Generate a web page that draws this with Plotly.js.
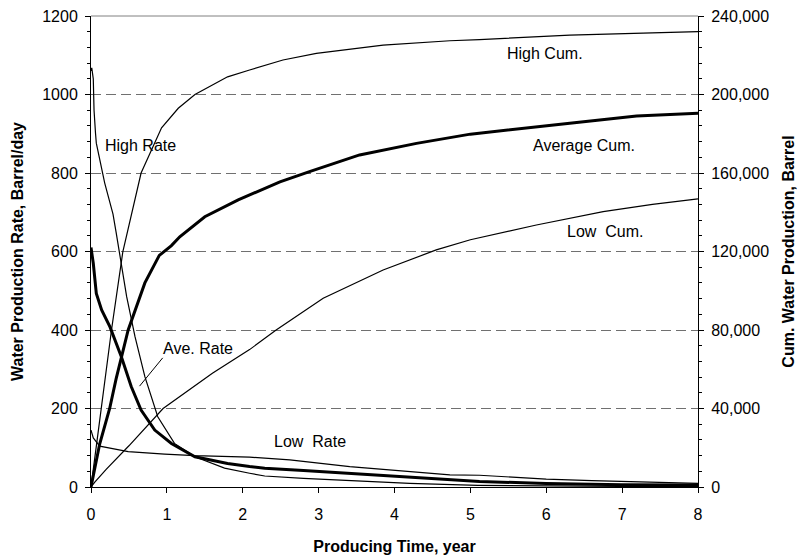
<!DOCTYPE html>
<html>
<head>
<meta charset="utf-8">
<script src="https://cdn.plot.ly/plotly-3.0.1.min.js"></script>
<style>html,body{margin:0;padding:0;background:#fff;}#chart{width:803px;height:560px;}</style>
</head>
<body>
<div id="chart"></div>
<script>
// ---- data (years, barrel/day) ----
var highRateX = [0, 0.01, 0.03, 0.04, 0.06, 0.07, 0.18, 0.29, 0.33, 0.38, 0.47, 0.58, 0.71, 0.88, 1.10, 1.37, 1.76, 2.09, 2.29, 2.8, 3.4, 4.2, 5.1, 6.0, 7.0, 8.0];
var highRateY = [1060, 1068, 1040, 960, 900, 876, 775, 695, 650, 595, 485, 383, 281, 179, 111, 77, 48, 35, 28, 22, 16, 9, 4, 2, 1.5, 1];

var aveRateX = [0, 0.005, 0.03, 0.07, 0.14, 0.25, 0.4, 0.53, 0.66, 0.84, 1.06, 1.37, 1.8, 2.09, 2.29, 2.8, 3.4, 4.2, 5.12, 6.0, 7.0, 8.0];
var aveRateY = [610, 604, 570, 493, 451, 408, 332, 256, 196, 145, 111, 77, 60, 52, 48, 42, 35, 24, 14, 9, 6, 5];

var lowRateX = [0, 0.03, 0.115, 0.49, 0.97, 1.37, 2.09, 2.29, 2.62, 3.41, 3.8, 4.2, 4.73, 5.12, 5.5, 6.0, 6.6, 7.4, 8.0];
var lowRateY = [145, 125, 104, 90, 84, 80, 76, 73, 69, 52, 46, 39, 31, 30, 26, 20, 16, 11, 9];

// ---- data (years, cumulative barrel) ----
var highCumX = [0, 0.05, 0.14, 0.27, 0.42, 0.58, 0.66, 0.93, 1.15, 1.37, 1.8, 2.09, 2.53, 2.97, 3.85, 4.73, 5.12, 6.31, 7.54, 8.0];
var highCumY = [0, 15000, 40000, 80000, 120000, 146000, 160000, 183000, 193000, 200000, 209000, 212500, 217600, 221000, 225200, 227400, 228000, 230300, 231500, 232000];

var aveCumX = [0, 0.05, 0.115, 0.246, 0.33, 0.49, 0.71, 0.9, 1.06, 1.17, 1.5, 1.94, 2.09, 2.49, 2.88, 3.54, 4.29, 5.0, 6.31, 7.19, 8.0];
var aveCumY = [0, 9000, 22000, 40000, 55000, 80000, 104000, 118000, 123000, 127500, 137700, 146300, 148800, 155500, 160700, 169200, 175100, 179800, 185300, 189100, 190400];

var lowCumX = [0, 0.05, 0.2, 0.5, 0.95, 1.6, 2.09, 2.44, 3.06, 3.5, 3.85, 4.55, 5.0, 5.87, 6.75, 7.4, 8.0];
var lowCumY = [0, 2500, 9000, 21000, 40000, 58000, 70000, 80000, 96200, 104000, 110600, 120800, 126000, 133500, 140300, 144000, 146800];

var labelText = ['High Rate', 'Ave. Rate', 'Low\u00a0 Rate', 'High Cum.', 'Average Cum.', 'Low\u00a0 Cum.'];

var FONT = 'Arial, "Liberation Sans", sans-serif';
var thin = {color: '#000', width: 1.2};
var thick = {color: '#000', width: 3};

var traces = [
  {x: highRateX, y: highRateY, mode: 'lines', line: thin, yaxis: 'y', name: 'High Rate'},
  {x: lowRateX, y: lowRateY, mode: 'lines', line: thin, yaxis: 'y', name: 'Low Rate'},
  {x: aveRateX, y: aveRateY, mode: 'lines', line: thick, yaxis: 'y', name: 'Ave. Rate'},
  {x: highCumX, y: highCumY, mode: 'lines', line: thin, yaxis: 'y2', name: 'High Cum.'},
  {x: lowCumX, y: lowCumY, mode: 'lines', line: thin, yaxis: 'y2', name: 'Low Cum.'},
  {x: aveCumX, y: aveCumY, mode: 'lines', line: thick, yaxis: 'y2', name: 'Average Cum.'}
];

var labelPos = [[0.655, 871], [1.41, 354], [2.89, 117], [5.99, 1105], [6.5, 871], [6.77, 650]];
var annotations = labelText.map(function (t, i) {
  return {x: labelPos[i][0], y: labelPos[i][1], xref: 'x', yref: 'y', text: t, showarrow: false,
          font: {family: FONT, size: 16, color: '#000'}, xanchor: 'center', yanchor: 'middle'};
});

var layout = {
  width: 803, height: 560,
  margin: {l: 91, r: 105, t: 16, b: 73},
  paper_bgcolor: '#fff', plot_bgcolor: '#fff',
  showlegend: false,
  font: {family: FONT, size: 16, color: '#000'},
  xaxis: {
    range: [0, 8], dtick: 1, tick0: 0, ticks: 'outside', ticklen: 5, tickcolor: '#000',
    showline: true, linecolor: '#000', linewidth: 1, showgrid: false, zeroline: false,
    ticklabelstandoff: 8,
    tickfont: {family: FONT, size: 16, color: '#000'},
    title: {text: '<b>Producing Time, year</b>', font: {family: FONT, size: 16, color: '#000'}, standoff: 18}
  },
  yaxis: {
    range: [0, 1200], dtick: 200, tick0: 0, ticks: 'outside', ticklen: 5, tickcolor: '#000',
    showline: true, linecolor: '#000', linewidth: 1, zeroline: false,
    showgrid: true, gridcolor: '#707070', gridwidth: 1, griddash: '10px,5px',
    minor: {dtick: 40, tick0: 0, ticks: 'outside', ticklen: 3, tickcolor: '#000', showgrid: false},
    ticklabelstandoff: 4,
    tickfont: {family: FONT, size: 16, color: '#000'},
    title: {text: '<b>Water Production Rate, Barrel/day</b>', font: {family: FONT, size: 16, color: '#000'}, standoff: 14}
  },
  yaxis2: {
    overlaying: 'y', side: 'right', range: [0, 240000], dtick: 40000, tick0: 0, tickformat: ',d',
    ticks: 'outside', ticklen: 5, tickcolor: '#000',
    showline: true, linecolor: '#000', linewidth: 1, zeroline: false, showgrid: false,
    minor: {dtick: 8000, tick0: 0, ticks: 'outside', ticklen: 3, tickcolor: '#000', showgrid: false},
    ticklabelstandoff: 4,
    tickfont: {family: FONT, size: 16, color: '#000'},
    title: {text: '<b>Cum. Water Production, Barrel</b>', font: {family: FONT, size: 16, color: '#000'}, standoff: 14}
  },
  annotations: annotations,
  shapes: [
    {type: 'line', xref: 'paper', yref: 'paper', x0: 0, x1: 1, y0: 1, y1: 1, line: {color: '#808080', width: 1}},
    {type: 'line', xref: 'x', yref: 'y', x0: 0.945, y0: 329, x1: 0.64, y1: 257, line: {color: '#000', width: 1}}
  ]
};

Plotly.newPlot('chart', traces, layout, {displayModeBar: false, staticPlot: true});
</script>
</body>
</html>
